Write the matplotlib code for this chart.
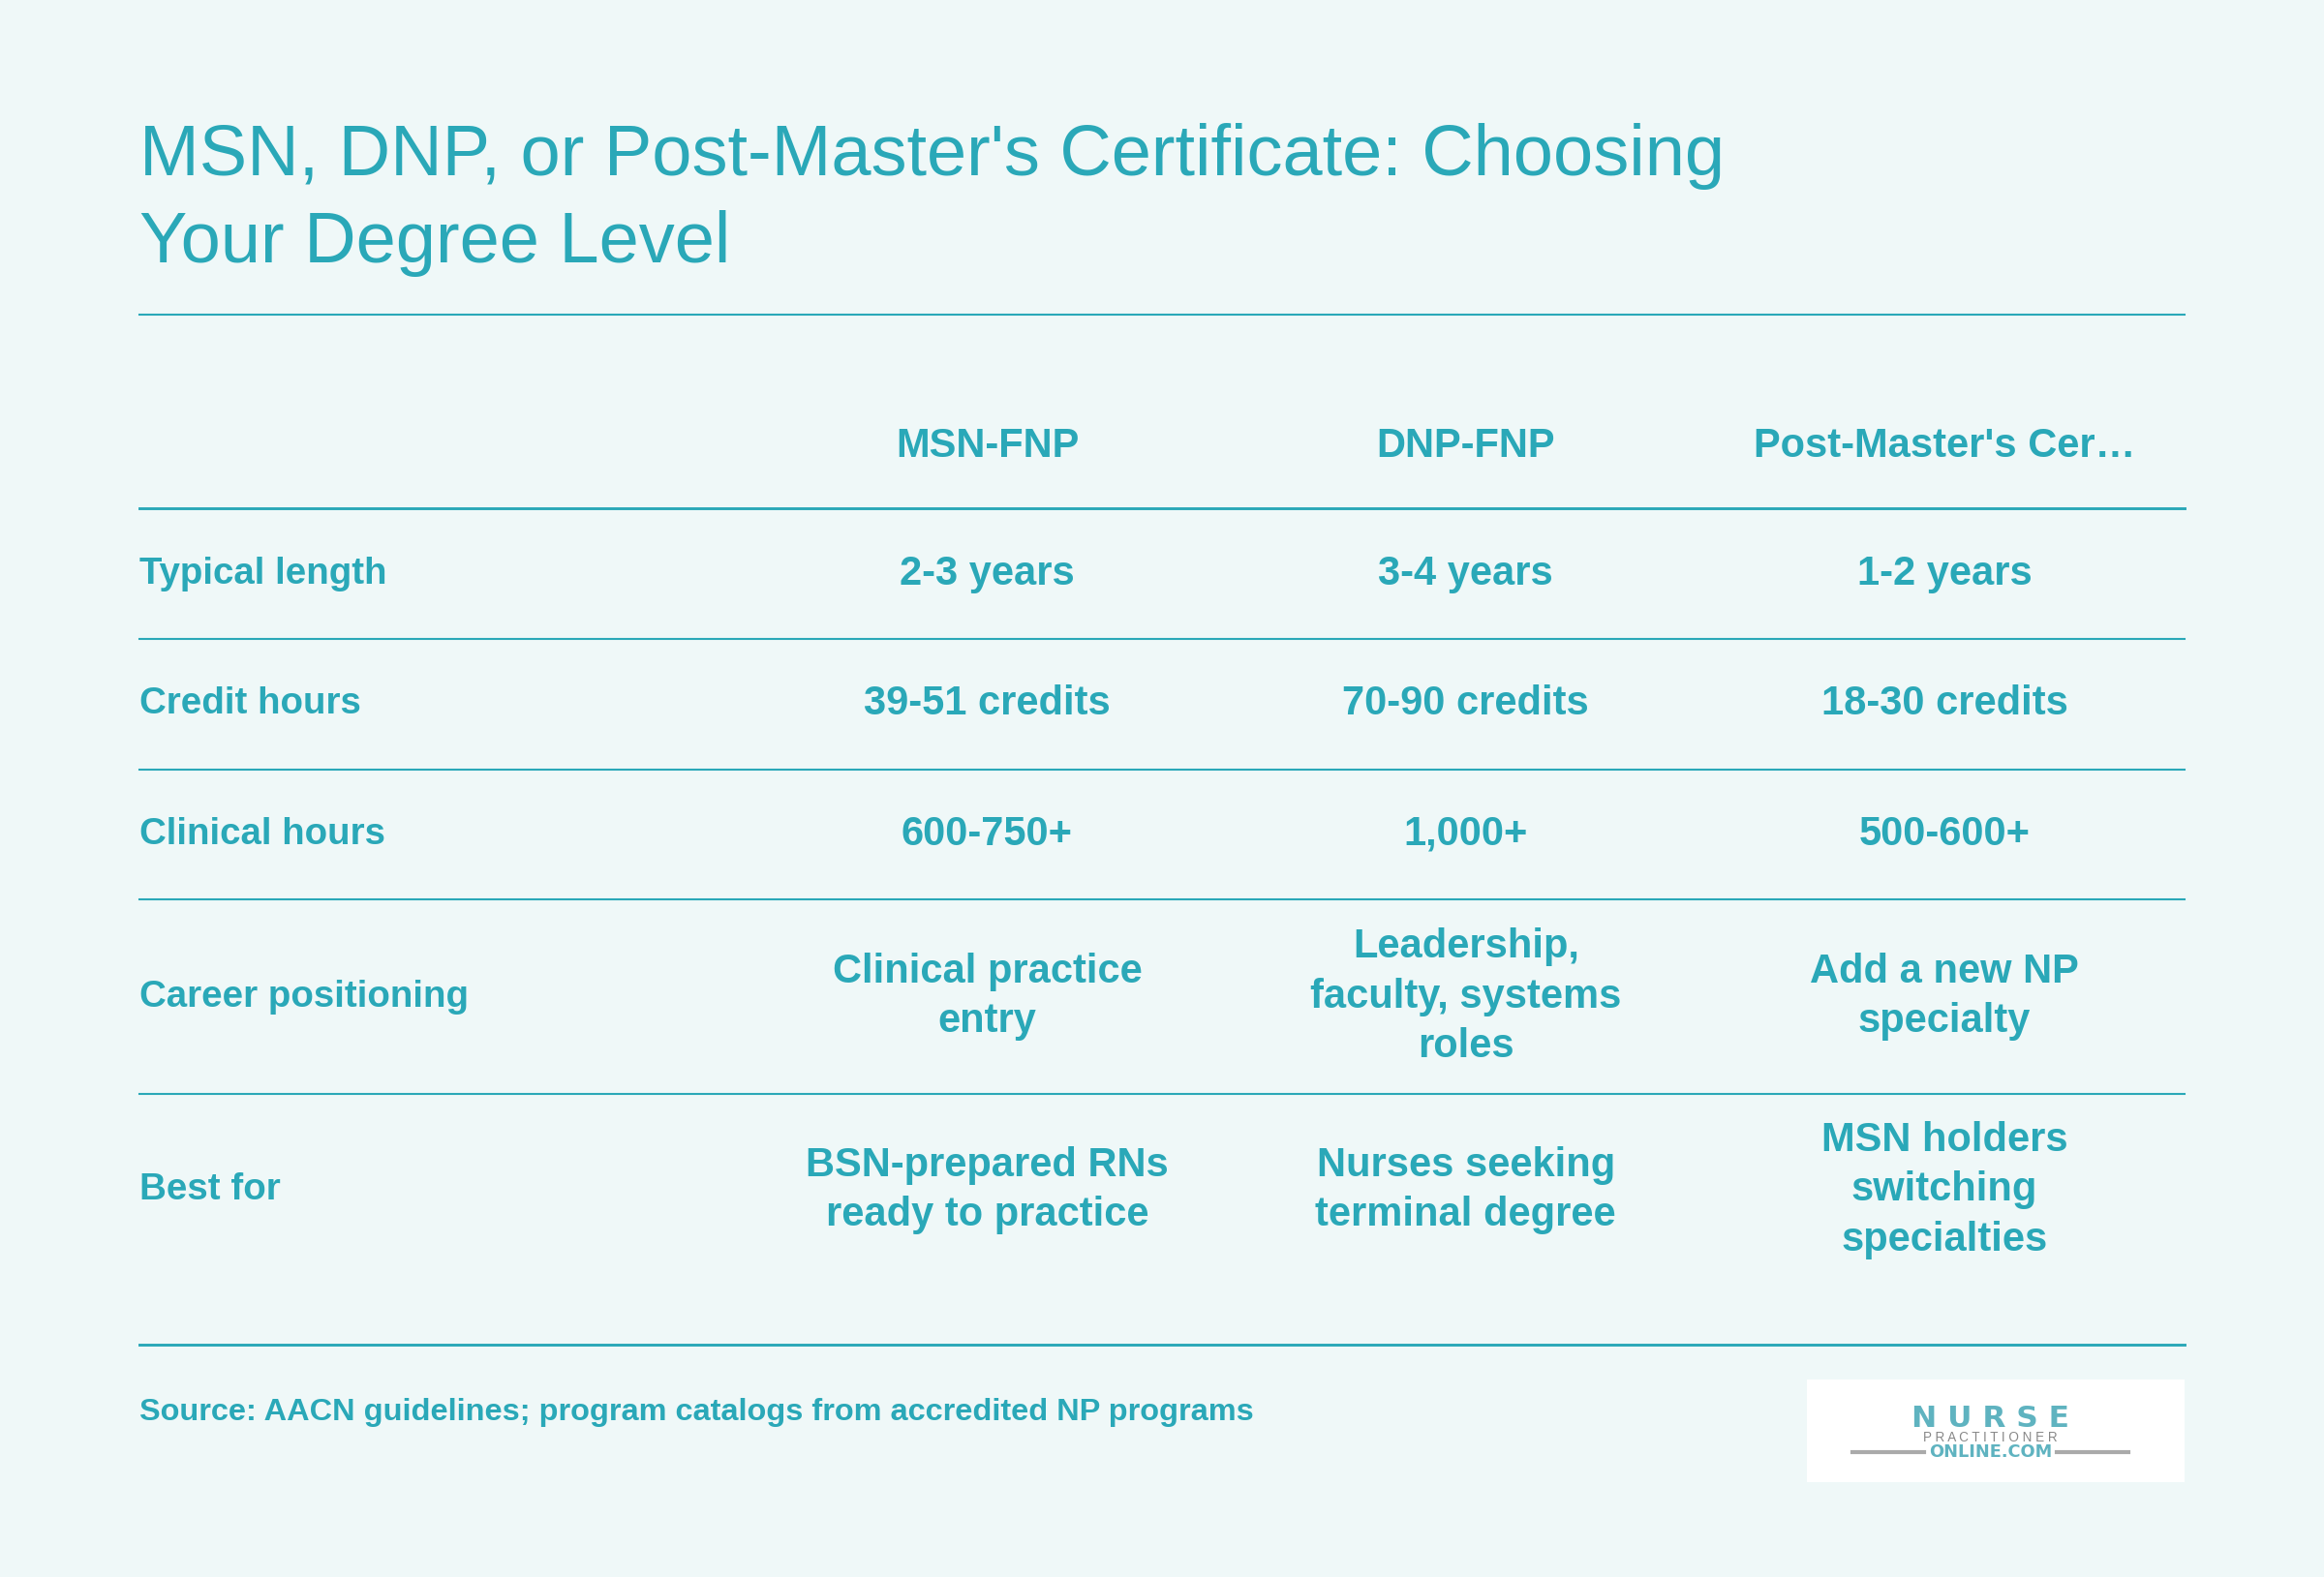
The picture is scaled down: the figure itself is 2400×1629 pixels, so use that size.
import matplotlib
matplotlib.use("Agg")
import matplotlib.pyplot as plt
from matplotlib.patches import Rectangle

title = "MSN, DNP, or Post-Master's Certificate: Choosing\nYour Degree Level"
columns = ["MSN-FNP", "DNP-FNP", "Post-Master's Cer…"]
row_labels = ["Typical length", "Credit hours", "Clinical hours", "Career positioning", "Best for"]
cells = [
    ["2-3 years", "3-4 years", "1-2 years"],
    ["39-51 credits", "70-90 credits", "18-30 credits"],
    ["600-750+", "1,000+", "500-600+"],
    ["Clinical practice\nentry", "Leadership,\nfaculty, systems\nroles", "Add a new NP\nspecialty"],
    ["BSN-prepared RNs\nready to practice", "Nurses seeking\nterminal degree", "MSN holders\nswitching\nspecialties"],
]
source = "Source: AACN guidelines; program catalogs from accredited NP programs"

BG = "#EFF8F8"; TEAL = "#2AA8B8"
plt.rcParams['font.family'] = ['Liberation Sans', 'DejaVu Sans']
fig = plt.figure(figsize=(16, 10.86), dpi=150, facecolor=BG)
ax = fig.add_axes([0, 0, 1, 1]); ax.set_xlim(0, 1568); ax.set_ylim(1064, 0); ax.axis('off')

ax.text(94, 135, title, fontsize=35.5, color=TEAL, va='center', ha='left', linespacing=1.38)
lines_y = [212, 343, 431, 519, 607, 738, 907]
for i, y in enumerate(lines_y):
    ax.plot([94, 1474], [y, y], color=TEAL, lw=1.4 if i in (1, 6) else 1.0)
col_x = [666, 989, 1312]
for x, c in zip(col_x, columns):
    ax.text(x, 301, c, fontsize=20, color=TEAL, weight='bold', ha='center', va='center')
row_centers = [(lines_y[i+1] + lines_y[i+2]) / 2 for i in range(5)]
row_centers[-1] = 803
for yc, lab, vals in zip(row_centers, row_labels, cells):
    ax.text(94, yc, lab, fontsize=18.5, color=TEAL, weight='bold', ha='left', va='center')
    for x, v in zip(col_x, vals):
        ax.text(x, yc, v, fontsize=20, color=TEAL, weight='bold', ha='center', va='center', linespacing=1.38)
ax.text(94, 953, source, fontsize=15.6, color=TEAL, weight='bold', ha='left', va='center')

ax.add_patch(Rectangle((1219, 931), 255, 69, facecolor='white', edgecolor='none'))
LT = "#5FB3C0"
ax.text(1343, 957, "N U R S E", fontsize=15, color=LT, weight='heavy', ha='center', va='center',
        family='DejaVu Sans')
ax.text(1343, 970, "P R A C T I T I O N E R", fontsize=6.5, color='#888888', ha='center', va='center')
ax.text(1343, 980, "ONLINE.COM", fontsize=8.5, color=LT, weight='bold', ha='center', va='center', family='DejaVu Sans')
ax.plot([1250, 1298], [980, 980], color='#AAAAAA', lw=2)
ax.plot([1388, 1436], [980, 980], color='#AAAAAA', lw=2)
fig.savefig("out.png", dpi=150, facecolor=BG)
